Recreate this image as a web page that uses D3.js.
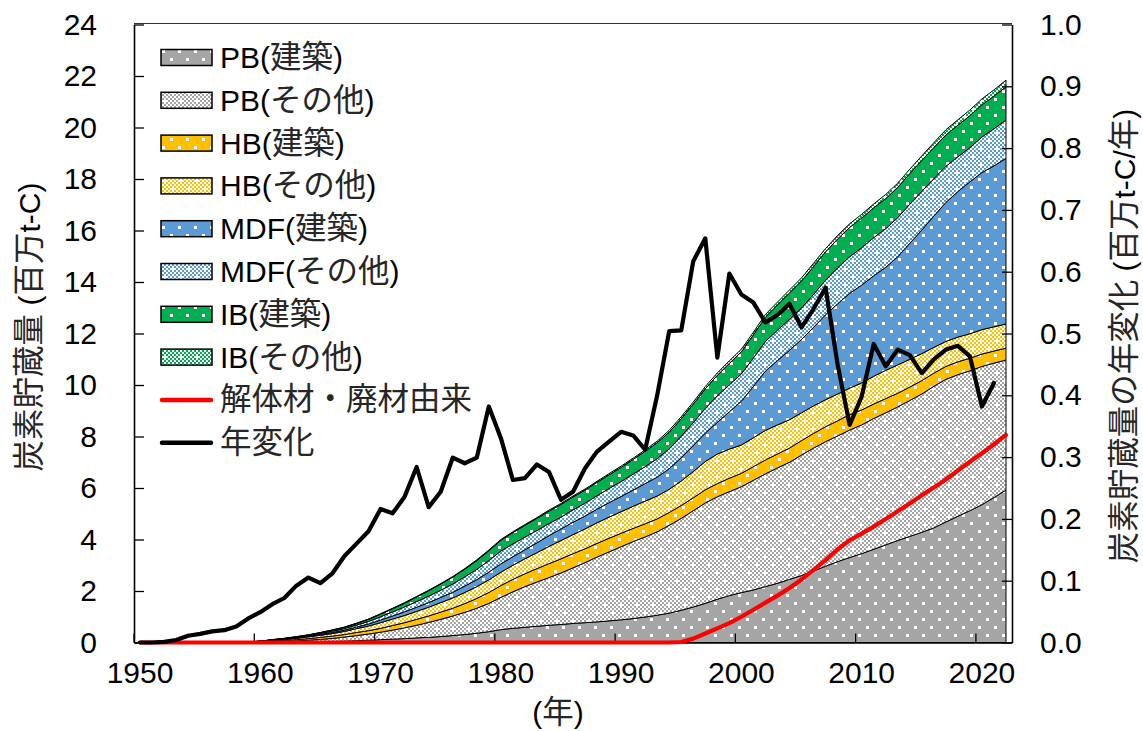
<!DOCTYPE html>
<html>
<head>
<meta charset="utf-8">
<script src="https://cdn.jsdelivr.net/npm/d3@7"></script>
<style>
  body { margin: 0; background: #fff; }
  svg { display: block; }
</style>
</head>
<body>
<svg id="chart" width="1143" height="731"></svg>
<script>
// ---- Data: carbon stock of wood-based panels (million t-C), 1950-2022 ----
const years = d3.range(1950, 2023);

const pbBuild = [0,0,0,0,0,0,0,0,0,0,0,0,0,
  0.01,0.02,0.03,0.04,0.05,0.07,0.09,0.11,0.13,0.15,
  0.18,0.2,0.23,0.27,0.31,0.36,0.42,0.5,0.55,0.59,
  0.63,0.67,0.7,0.74,0.77,0.8,0.84,0.88,0.93,0.99,
  1.06,1.14,1.25,1.38,1.52,1.68,1.82,1.94,2.04,2.17,
  2.3,2.45,2.6,2.78,2.96,3.14,3.3,3.45,3.62,3.79,
  3.96,4.12,4.28,4.45,4.68,4.9,5.12,5.35,5.63,5.92];

const pbOther = [0,0,0,0,0,0,0,0,0,0,
  0.01,0.02,0.04,0.05,0.07,0.09,0.12,0.16,0.2,0.24,
  0.29,0.35,0.42,0.49,0.58,0.67,0.76,0.86,0.97,1.1,
  1.25,1.42,1.58,1.72,1.85,2.0,2.16,2.33,2.52,2.68,
  2.84,2.99,3.11,3.24,3.41,3.57,3.74,3.9,3.98,4.04,
  4.11,4.26,4.38,4.48,4.55,4.68,4.77,4.84,4.88,4.95,
  5.0,5.08,5.13,5.19,5.28,5.37,5.5,5.54,5.5,5.43,
  5.37,5.22,5.05];

const hbBuild = [0,0,0,0,0,0,0,0,0,
  0.01,0.02,0.03,0.04,0.05,0.06,0.08,0.09,0.1,0.12,
  0.13,0.15,0.18,0.2,0.23,0.25,0.28,0.3,0.34,0.38,
  0.42,0.46,0.48,0.5,0.52,0.54,0.55,0.55,0.54,0.53,
  0.53,0.52,0.51,0.51,0.5,0.5,0.5,0.5,0.51,0.51,
  0.52,0.52,0.53,0.54,0.54,0.55,0.56,0.57,0.58,0.59,
  0.6,0.58,0.56,0.55,0.53,0.52,0.52,0.51,0.5,0.5,
  0.49,0.48,0.47,0.46];

const hbOther = [0,0,0,0,0,0,0,0,0,
  0.01,0.02,0.03,0.04,0.05,0.07,0.08,0.1,0.12,0.15,
  0.18,0.22,0.25,0.28,0.31,0.34,0.37,0.4,0.43,0.46,
  0.49,0.52,0.55,0.58,0.62,0.67,0.71,0.74,0.77,0.8,
  0.82,0.84,0.86,0.88,0.89,0.9,0.95,1.02,1.1,1.15,
  1.13,1.1,1.12,1.15,1.13,1.1,1.08,1.07,1.05,1.04,
  1.03,1.05,1.08,1.1,1.1,1.08,1.05,1.0,0.97,0.96,
  0.95,0.95,0.94,0.94];

const mdfBuild = [0,0,0,0,0,0,0,0,0,0,0,
  0.01,0.01,0.02,0.02,0.03,0.04,0.05,0.06,0.08,0.1,
  0.12,0.14,0.16,0.18,0.2,0.22,0.25,0.27,0.3,0.32,
  0.33,0.35,0.38,0.42,0.45,0.48,0.5,0.53,0.56,0.59,
  0.63,0.68,0.73,0.8,0.9,1.0,1.1,1.23,1.45,1.7,
  2.0,2.3,2.5,2.7,2.85,3.05,3.3,3.5,3.68,3.8,
  3.9,4.0,4.2,4.5,4.8,5.1,5.4,5.65,5.9,6.1,
  6.25,6.43];

const mdfOther = [0,0,0,0,0,0,0,0,0,0,0,
  0.01,0.02,0.02,0.03,0.04,0.05,0.06,0.08,0.1,0.13,
  0.16,0.19,0.22,0.25,0.28,0.32,0.36,0.4,0.45,0.5,
  0.5,0.49,0.48,0.47,0.46,0.48,0.5,0.52,0.55,0.58,
  0.62,0.66,0.72,0.77,0.84,0.9,0.96,1.03,1.05,1.06,
  1.1,1.15,1.18,1.2,1.22,1.28,1.34,1.4,1.42,1.45,
  1.48,1.5,1.52,1.52,1.5,1.45,1.4,1.35,1.33,1.38,
  1.44,1.49];

const ibBuild = [0,0,0,0,0,0,0,0,0,0,0,
  0.01,0.01,0.02,0.02,0.03,0.04,0.05,0.06,0.08,0.1,
  0.12,0.15,0.18,0.21,0.24,0.27,0.3,0.34,0.38,0.42,
  0.44,0.46,0.47,0.48,0.49,0.5,0.51,0.52,0.53,0.55,
  0.57,0.59,0.62,0.65,0.68,0.72,0.76,0.8,0.83,0.86,
  0.9,0.94,0.98,1.02,1.05,1.08,1.1,1.12,1.14,1.15,
  1.16,1.17,1.18,1.19,1.2,1.21,1.22,1.23,1.24,1.25,
  1.27,1.29];

const ibOther = [0,0,0,0,0,0,0,0,0,0,0,0,0,
  0.01,0.01,0.01,0.01,0.01,0.01,0.01,0.02,0.02,0.02,
  0.02,0.02,0.02,0.02,0.02,0.03,0.03,0.03,0.03,0.03,
  0.03,0.04,0.04,0.04,0.04,0.04,0.05,0.05,0.05,0.06,
  0.06,0.07,0.08,0.08,0.09,0.09,0.1,0.1,0.1,0.11,
  0.11,0.12,0.12,0.13,0.13,0.14,0.14,0.15,0.15,0.16,
  0.16,0.17,0.18,0.19,0.2,0.21,0.22,0.23,0.24,0.26];

// Stock derived from demolition / waste wood (left axis)
const demolition = [0,0,0,0,0,0,0,0,0,0,0,0,0,0,0,0,0,0,0,0,0,0,0,0,0,
  0,0,0,0,0,0,0,0,0,0,0,0,0,0,0,0,0,0,0,0,
  0.02,0.15,0.35,0.55,0.75,1.0,1.27,1.55,1.82,2.12,
  2.45,2.82,3.2,3.62,3.97,4.23,4.5,4.8,5.1,5.4,
  5.72,6.02,6.33,6.68,7.02,7.35,7.7,8.06];

// Annual change of the stock (right axis, million t-C / year), 1950-2021
const changeYears = d3.range(1950, 2022);
const annualChange = [0,0,0.001,0.004,0.011,0.014,0.018,0.02,0.026,0.039,
  0.049,0.062,0.072,0.092,0.105,0.096,0.112,0.14,0.16,0.18,
  0.216,0.209,0.236,0.284,0.219,0.244,0.299,0.29,0.299,0.382,
  0.331,0.263,0.266,0.288,0.276,0.231,0.244,0.282,0.309,0.325,
  0.341,0.335,0.312,0.4,0.504,0.505,0.617,0.654,0.461,0.597,
  0.563,0.55,0.518,0.53,0.548,0.51,0.54,0.574,0.45,0.352,
  0.398,0.483,0.447,0.474,0.465,0.436,0.458,0.474,0.48,0.463,
  0.382,0.42];

const seriesKeys = ["pbBuild","pbOther","hbBuild","hbOther","mdfBuild","mdfOther","ibBuild","ibOther"];
const seriesNames = ["PB(建築)","PB(その他)","HB(建築)","HB(その他)","MDF(建築)","MDF(その他)","IB(建築)","IB(その他)"];
const seriesValues = [pbBuild,pbOther,hbBuild,hbOther,mdfBuild,mdfOther,ibBuild,ibOther];
const lineNames = ["解体材・廃材由来","年変化"];

const leftTicks = d3.range(0, 25, 2);
const rightTicks = d3.range(0, 11).map(d => d / 10);
const yearTicks = d3.range(1950, 2021, 10);

// ---- Styling ----
const LATIN = "'Liberation Sans', Arial, sans-serif";
const CJK = "'Noto Sans CJK JP', 'Noto Sans CJK SC', sans-serif";
const colors = ["#a5a5a5","#a5a5a5","#ffc000","#ffc000","#5b9bd5","#5b9bd5","#00b050","#00b050"];
const dotted = [true,false,true,false,true,false,true,false];

const svg = d3.select("#chart");
const defs = svg.append("defs");

// 16px tiles: "建築" = solid colour with white dots, "その他" = 2px checker with white spots
function tilePattern(id, color, isDotted) {
  const p = defs.append("pattern").attr("id", id)
    .attr("patternUnits", "userSpaceOnUse").attr("width", 16).attr("height", 16);
  p.append("rect").attr("width", 16).attr("height", 16)
    .attr("fill", isDotted ? color : "#fff");
  let path = "";
  if (isDotted) {
    [[2, 2], [10, 10]].forEach(([cx, cy]) => { path += `M${cx},${cy}h3v3h-3Z`; });
  } else {
    for (let i = 0; i < 8; i++) {
      for (let j = 0; j < 8; j++) {
        const on = (i + j) % 2 === 0 && !((i === 2 && j === 2) || (i === 6 && j === 6));
        if (on) path += `M${i * 2},${j * 2}h2v2h-2Z`;
      }
    }
  }
  p.append("path").attr("d", path)
    .attr("fill", isDotted ? "#fff" : color)
    .attr("shape-rendering", "crispEdges");
}
seriesKeys.forEach((k, i) => tilePattern("pat-" + k, colors[i], dotted[i]));

// Mixed Latin / Japanese text
function richText(sel, str, latinSize = 30, cjkSize = 31.5) {
  const re = /[\u3000-\u30ff\u4e00-\u9fff\uff00-\uffef]+|[^\u3000-\u30ff\u4e00-\u9fff\uff00-\uffef]+/g;
  (str.match(re) || []).forEach(part => {
    const isCjk = /[\u3000-\u30ff\u4e00-\u9fff\uff00-\uffef]/.test(part);
    sel.append("tspan")
      .attr("font-family", isCjk ? CJK : LATIN)
      .attr("font-size", isCjk ? cjkSize : latinSize)
      .attr("fill", isCjk ? "#262626" : "#000")
      .text(part);
  });
  return sel;
}

// ---- Scales ----
const plot = { left: 134, right: 1012, top: 24.5, bottom: 642.5 };
const x = d3.scaleBand().domain(years).range([plot.left, plot.right]).paddingInner(0).paddingOuter(0);
const xc = yr => x(yr) + x.bandwidth() / 2;
const y = d3.scaleLinear().domain([0, 24]).range([plot.bottom, plot.top]);
const y2 = d3.scaleLinear().domain([0, 1]).range([plot.bottom, plot.top]);

// ---- Stacked areas ----
const rows = years.map((yr, i) => {
  const r = { year: yr };
  seriesKeys.forEach((k, s) => r[k] = seriesValues[s][i]);
  return r;
});
const stacked = d3.stack().keys(seriesKeys)(rows);
const area = d3.area()
  .x(d => xc(d.data.year))
  .y0(d => y(d[0]))
  .y1(d => y(d[1]));

svg.append("g").selectAll("path").data(stacked).join("path")
  .attr("d", area)
  .attr("fill", d => `url(#pat-${d.key})`)
  .attr("stroke", "#000")
  .attr("stroke-width", 1)
  .attr("stroke-linejoin", "round");

// ---- Axes and frame ----
const axes = svg.append("g");
axes.append("line").attr("x1", plot.left).attr("x2", plot.right)
  .attr("y1", plot.top - 1).attr("y2", plot.top - 1)
  .attr("stroke", "#333").attr("stroke-width", 1.2);

const leftAxis = d3.axisLeft(y).tickValues(leftTicks).tickSizeInner(-10).tickSizeOuter(0).tickPadding(37);
const gL = axes.append("g").attr("transform", `translate(${plot.left},0)`).call(leftAxis);

const rightAxis = d3.axisRight(y2).tickValues(rightTicks).tickSizeInner(-10).tickSizeOuter(0)
  .tickPadding(28).tickFormat(d3.format(".1f"));
const gR = axes.append("g").attr("transform", `translate(${plot.right},0)`).call(rightAxis);

const bottomAxis = d3.axisBottom(x).tickValues(yearTicks).tickSize(0).tickPadding(19);
const gB = axes.append("g").attr("transform", `translate(0,${plot.bottom})`).call(bottomAxis);
// tick marks sit on category boundaries
gB.selectAll(".tickmark").data(yearTicks).join("line").attr("class", "tickmark")
  .attr("x1", d => x(d)).attr("x2", d => x(d)).attr("y1", 0).attr("y2", -9)
  .attr("stroke", "#000").attr("stroke-width", 1.3);

[gL, gR, gB].forEach(g => {
  g.select(".domain").attr("stroke", "#000").attr("stroke-width", 1.6);
  g.selectAll(".tick line").attr("stroke", "#000").attr("stroke-width", 1.3);
  g.selectAll(".tick text").attr("font-family", LATIN).attr("font-size", 30).attr("fill", "#000");
});
gB.selectAll(".tick text").attr("dy", "0.71em");

// ---- Lines ----
const demoLine = d3.line().x((d, i) => xc(years[i])).y(d => y(d));
svg.append("path").attr("d", demoLine(demolition))
  .attr("fill", "none").attr("stroke", "#ff0000").attr("stroke-width", 4.2)
  .attr("stroke-linejoin", "round").attr("stroke-linecap", "round");

const changeLine = d3.line().x((d, i) => xc(changeYears[i])).y(d => y2(d));
svg.append("path").attr("d", changeLine(annualChange))
  .attr("fill", "none").attr("stroke", "#000").attr("stroke-width", 4.2)
  .attr("stroke-linejoin", "round").attr("stroke-linecap", "round");

// ---- Axis titles ----
richText(svg.append("text").attr("transform", "translate(40,327) rotate(-90)")
  .attr("text-anchor", "middle"), "炭素貯蔵量 (百万t-C)");
richText(svg.append("text").attr("transform", "translate(1135,336) rotate(-90)")
  .attr("text-anchor", "middle"), "炭素貯蔵量の年変化 (百万t-C/年)");
richText(svg.append("text").attr("x", 558).attr("y", 723)
  .attr("text-anchor", "middle"), "(年)");

// ---- Legend ----
const legend = svg.append("g");
const rowY = i => 57.5 + i * 42.8;
seriesKeys.forEach((k, i) => {
  legend.append("rect").attr("x", 161).attr("y", rowY(i) - 8).attr("width", 51).attr("height", 16)
    .attr("fill", `url(#pat-${k})`).attr("stroke", "#000").attr("stroke-width", 1.5);
  richText(legend.append("text").attr("x", 220).attr("y", rowY(i) + 10.5), seriesNames[i]);
});
const lineColors = ["#ff0000", "#000"];
lineNames.forEach((name, j) => {
  const i = seriesKeys.length + j;
  legend.append("line").attr("x1", 162).attr("x2", 211).attr("y1", rowY(i)).attr("y2", rowY(i))
    .attr("stroke", lineColors[j]).attr("stroke-width", 4.5).attr("stroke-linecap", "round");
  richText(legend.append("text").attr("x", 220).attr("y", rowY(i) + 10.5), name);
});
</script>
</body>
</html>
